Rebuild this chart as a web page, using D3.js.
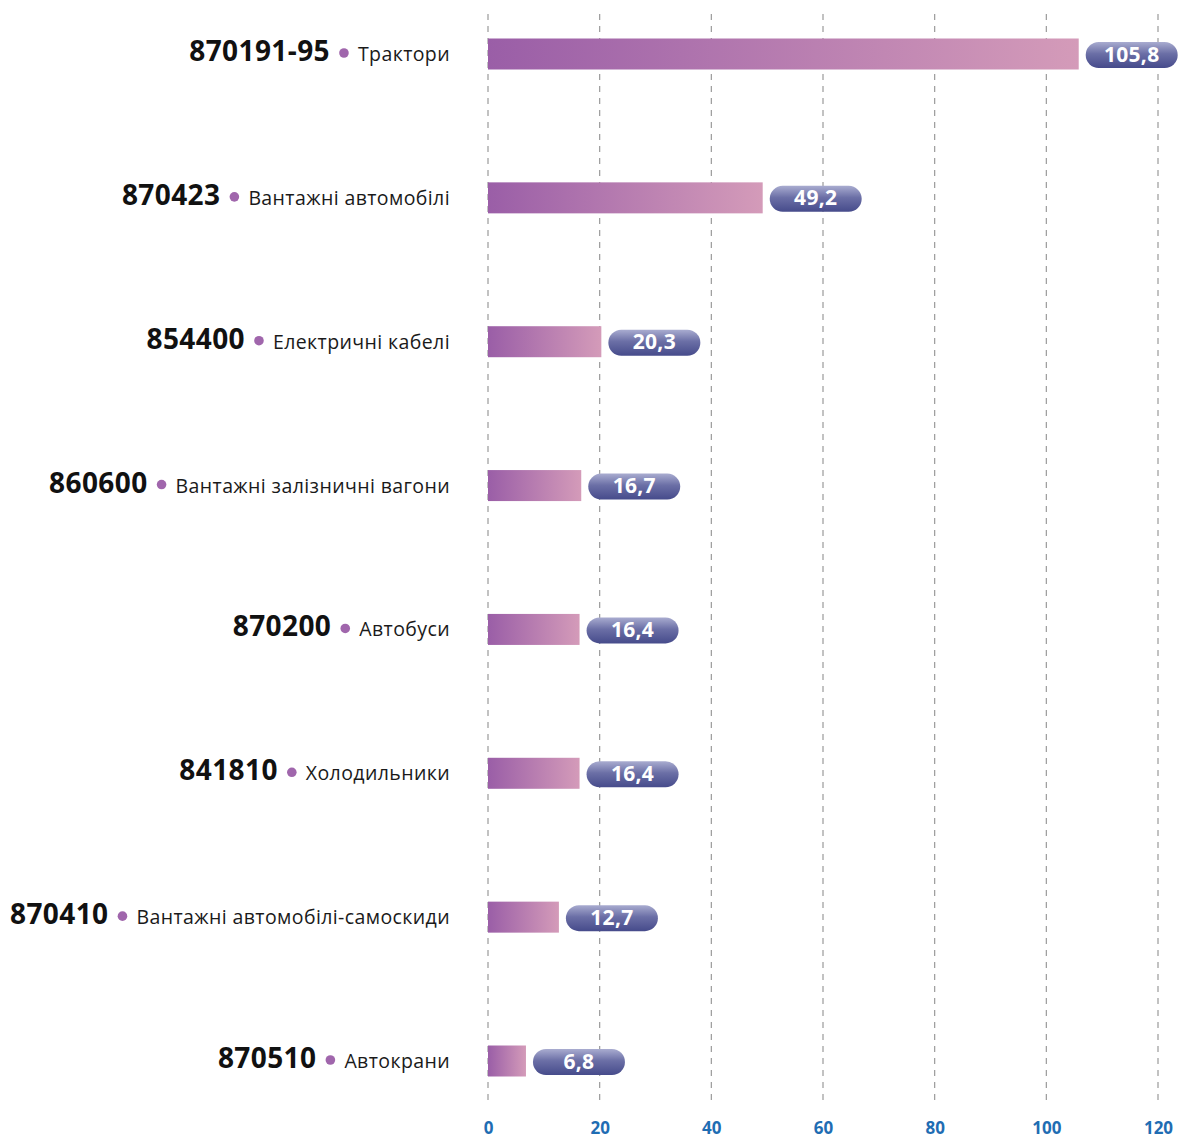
<!DOCTYPE html>
<html><head><meta charset="utf-8">
<script src="https://cdn.jsdelivr.net/npm/d3@7"></script>
<style>body{margin:0;background:#fff;}svg{display:block;}</style>
</head><body>
<svg id="c" width="1180" height="1139"></svg>
<script>
const codes = ["870191-95","870423","854400","860600","870200","841810","870410","870510"];
const names = ["Трактори","Вантажні автомобілі","Електричні кабелі","Вантажні залізничні вагони","Автобуси","Холодильники","Вантажні автомобілі-самоскиди","Автокрани"];
const values = [105.8,49.2,20.3,16.7,16.4,16.4,12.7,6.8];
const ticks = [0,20,40,60,80,100,120];

const FONT = "'Open Sans', 'Noto Sans', sans-serif";
const svg = d3.select("#c");
const x = d3.scaleLinear().domain([0,120]).range([488,1158]);
const y = d3.scalePoint().domain(codes).range([54,1061]);
const barH = 31;

const defs = svg.append("defs");
const bg = defs.append("linearGradient").attr("id","barGrad").attr("x1","0").attr("x2","1").attr("y1","0").attr("y2","0");
bg.append("stop").attr("offset","0").attr("stop-color","#9a5ea7");
bg.append("stop").attr("offset","1").attr("stop-color","#d49bb9");
const pg = defs.append("linearGradient").attr("id","pillGrad").attr("x1","0").attr("x2","0").attr("y1","0").attr("y2","1");
pg.append("stop").attr("offset","0").attr("stop-color","#a9acd0");
pg.append("stop").attr("offset","0.45").attr("stop-color","#6b6fa6");
pg.append("stop").attr("offset","1").attr("stop-color","#464b8b");

// grid
svg.append("g").selectAll("line").data(ticks).join("line")
  .attr("x1",d=>x(d)).attr("x2",d=>x(d)).attr("y1",14).attr("y2",1100)
  .attr("stroke","#9a9a9a").attr("stroke-width",1.2).attr("stroke-dasharray","6,6");

// axis labels
const axis = d3.axisBottom(x).tickValues(ticks).tickSize(0).tickPadding(0).tickFormat(d3.format("d"));
const ag = svg.append("g").attr("transform","translate(0,1134)").call(axis);
ag.select(".domain").remove();
ag.selectAll("text").attr("fill","#1f6db3").attr("font-family",FONT).attr("font-weight",700).attr("font-size",17).attr("y",0).attr("dy","0");

// bars
svg.append("g").selectAll("rect").data(values).join("rect")
  .attr("x",x(0)).attr("y",(d,i)=>y(codes[i])-barH/2)
  .attr("width",d=>x(d)-x(0)).attr("height",barH).attr("fill","url(#barGrad)");

// pills
const pw = 92, ph = 26;
const pills = svg.append("g").selectAll("g").data(values).join("g")
  .attr("transform",(d,i)=>`translate(${x(d)+7},${y(codes[i])-ph/2+1})`);
pills.append("rect").attr("width",pw).attr("height",ph).attr("rx",ph/2).attr("fill","url(#pillGrad)");
pills.append("text").attr("x",pw/2).attr("y",ph/2+1).attr("text-anchor","middle").attr("dominant-baseline","middle")
  .attr("fill","#fff").attr("font-family",FONT).attr("font-weight",700).attr("font-size",21).attr("letter-spacing",0.3)
  .text(d=>d3.format(".1f")(d).replace(".",","));

// labels
const lg = svg.append("g").selectAll("g").data(codes).join("g").attr("transform",d=>`translate(450,${y(d)})`);
lg.each(function(d,i){
  const g = d3.select(this);
  const t = g.append("text").attr("x",0).attr("y",7).attr("text-anchor","end")
    .attr("font-family",FONT).attr("font-size",19.5).attr("letter-spacing",0.4).attr("fill","#1a1a1a").text(names[i]);
  const w = t.node().getComputedTextLength();
  const dx = -w - 14;
  g.append("circle").attr("cx",dx).attr("cy",-1).attr("r",4.8).attr("fill","#a066ac");
  g.append("text").attr("x",dx-14).attr("y",7).attr("text-anchor","end")
    .attr("font-family",FONT).attr("font-weight",700).attr("font-size",28).attr("letter-spacing",0.4).attr("fill","#111").text(d);
});
</script>
</body></html>
